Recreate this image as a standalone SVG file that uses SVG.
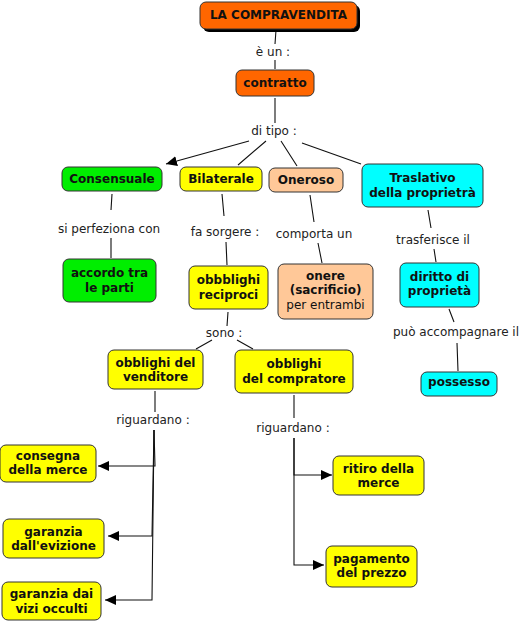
<svg xmlns="http://www.w3.org/2000/svg" width="522" height="623" viewBox="0 0 522 623">
<style>
.n{stroke:#333;stroke-width:1}
.o{fill:#FF6600}.g{fill:#00EE00}.y{fill:#FFFF00}.p{fill:#FFC898}.c{fill:#00FFFF}
.t{font-family:"DejaVu Sans",Verdana,sans-serif;font-size:12px;font-weight:bold;fill:#111;text-anchor:middle}
.tn{font-weight:normal}
.l{font-family:"DejaVu Sans",Verdana,sans-serif;font-size:12px;fill:#222;text-anchor:middle}
.e{fill:none;stroke:#111;stroke-width:1.1}
</style>
<defs>
<marker id="arr" markerWidth="11" markerHeight="10" refX="11" refY="5" orient="auto" markerUnits="userSpaceOnUse"><path d="M0,0 L11,5 L0,10 z" fill="#000"/></marker>
</defs>
<rect width="522" height="623" fill="#fff"/>
<g id="connectors">
<path class="e" d="M276,30 L275,44 M275,60 L275,69"/>
<text class="l" x="273" y="56">è un :</text>
<path class="e" d="M275,98 L275,123"/>
<text class="l" x="274" y="135">di tipo :</text>
<path class="e" d="M249,141 L166,164" marker-end="url(#arr)"/>
<path class="e" d="M266,141 L238,165 M281,141 L297,166 M302,143 L361,164"/>
<path class="e" d="M112,194 L111,210 M111,238 L111,258"/>
<text class="l" x="109" y="233">si perfeziona con</text>
<path class="e" d="M222,194 L224,216 M226,242 L227,265"/>
<text class="l" x="225" y="236">fa sorgere :</text>
<path class="e" d="M310,195 L314,222 M318,243 L322,263"/>
<text class="l" x="314" y="238">comporta un</text>
<path class="e" d="M428,210 L431,228 M434,249 L436,262"/>
<text class="l" x="433" y="244">trasferisce il</text>
<path class="e" d="M449,309 L454,322 M457,343 L458,371"/>
<text class="l" x="456" y="336">può accompagnare il</text>
<path class="e" d="M228,312 L227,326 M212,340 L196,349 M237,340 L253,349"/>
<text class="l" x="224" y="337">sono :</text>
<path class="e" d="M155,391 L155,412"/>
<text class="l" x="153" y="424">riguardano :</text>
<path class="e" d="M154,430 L155,466 L98,466" marker-end="url(#arr)"/>
<path class="e" d="M154,430 L152,536 L108,536" marker-end="url(#arr)"/>
<path class="e" d="M154,430 L152,600 L105,600" marker-end="url(#arr)"/>
<path class="e" d="M294,395 L294,418"/>
<text class="l" x="293" y="432">riguardano :</text>
<path class="e" d="M294,438 L294,475 L332,475" marker-end="url(#arr)"/>
<path class="e" d="M294,438 L294,565 L324,565" marker-end="url(#arr)"/>
</g>
<g id="n-title">
<rect x="203" y="5" width="157" height="27" rx="6" fill="#000"/>
<rect class="n o" x="200" y="2" width="157" height="27" rx="6"/>
<text class="t" x="278.5" y="19">LA COMPRAVENDITA</text>
</g>
<g id="n-contratto"><rect class="n o" x="236" y="70" width="78" height="26" rx="6"/><text class="t" x="275" y="87">contratto</text></g>
<g id="n-consensuale"><rect class="n g" x="62" y="167" width="100" height="24" rx="6"/><text class="t" x="112" y="183">Consensuale</text></g>
<g id="n-bilaterale"><rect class="n y" x="180" y="167" width="82" height="24" rx="6"/><text class="t" x="221" y="183">Bilaterale</text></g>
<g id="n-oneroso"><rect class="n p" x="269" y="168" width="74" height="24" rx="6"/><text class="t" x="306" y="184">Oneroso</text></g>
<g id="n-traslativo"><rect class="n c" x="362" y="164" width="121" height="43" rx="6"/><text class="t" x="422.5" y="182">Traslativo</text><text class="t" x="422.5" y="197">della proprietrà</text></g>
<g id="n-accordo"><rect class="n g" x="63" y="259" width="93" height="43" rx="6"/><text class="t" x="109.5" y="277">accordo tra</text><text class="t" x="109.5" y="292">le parti</text></g>
<g id="n-reciproci"><rect class="n y" x="189" y="266" width="79" height="43" rx="6"/><text class="t" x="228.5" y="284">obbblighi</text><text class="t" x="228.5" y="299">reciproci</text></g>
<g id="n-onere"><rect class="n p" x="278" y="264" width="95" height="55" rx="6"/><text class="t" x="325.5" y="280">onere</text><text class="t" x="325.5" y="294">(sacrificio)</text><text class="t tn" x="325.5" y="309">per entrambi</text></g>
<g id="n-diritto"><rect class="n c" x="400" y="263" width="79" height="44" rx="6"/><text class="t" x="439.5" y="281">diritto di</text><text class="t" x="439.5" y="295">proprietà</text></g>
<g id="n-possesso"><rect class="n c" x="421" y="372" width="76" height="24" rx="6"/><text class="t" x="459" y="386">possesso</text></g>
<g id="n-venditore"><rect class="n y" x="108" y="350" width="95" height="39" rx="6"/><text class="t" x="155.5" y="367">obblighi del</text><text class="t" x="155.5" y="381">venditore</text></g>
<g id="n-compratore"><rect class="n y" x="235" y="350" width="118" height="43" rx="6"/><text class="t" x="294" y="368">obblighi</text><text class="t" x="294" y="383">del compratore</text></g>
<g id="n-consegna"><rect class="n y" x="0" y="445" width="96" height="37" rx="6"/><text class="t" x="48" y="460">consegna</text><text class="t" x="48" y="474">della merce</text></g>
<g id="n-evizione"><rect class="n y" x="3" y="519" width="101" height="39" rx="6"/><text class="t" x="53.5" y="536">garanzia</text><text class="t" x="53.5" y="550">dall'evizione</text></g>
<g id="n-vizi"><rect class="n y" x="2" y="582" width="99" height="38" rx="6"/><text class="t" x="51.5" y="598">garanzia dai</text><text class="t" x="51.5" y="613">vizi occulti</text></g>
<g id="n-ritiro"><rect class="n y" x="333" y="456" width="91" height="39" rx="6"/><text class="t" x="378.5" y="473">ritiro della</text><text class="t" x="378.5" y="487">merce</text></g>
<g id="n-pagamento"><rect class="n y" x="326" y="546" width="91" height="41" rx="6"/><text class="t" x="371.5" y="563">pagamento</text><text class="t" x="371.5" y="577">del prezzo</text></g>
</svg>
